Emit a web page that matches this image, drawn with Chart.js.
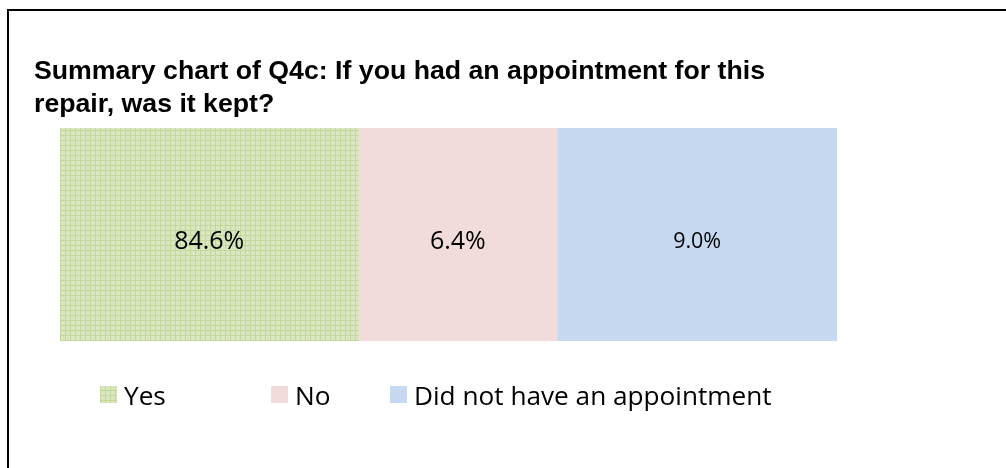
<!DOCTYPE html>
<html>
<head>
<meta charset="utf-8">
<script src="https://cdn.jsdelivr.net/npm/chart.js@4"></script>
<style>
  html, body { margin: 0; padding: 0; background: #fff; overflow: hidden; }
  #wrap { position: relative; width: 1006px; height: 468px; }
  #frame { position: absolute; left: 7px; top: 9px; width: 1100px; height: 600px; border-left: 2px solid #000; border-top: 2px solid #000; }
  #title { position: absolute; left: 34px; top: 54px; font: bold 26.7px "Liberation Sans", Arial, sans-serif; line-height: 33px; color: #000; }
  #myChart { position: absolute; left: 0; top: 0; }
</style>
</head>
<body>
<div id="wrap">
  <div id="frame"></div>
  <canvas id="myChart" width="1006" height="468"></canvas>
  <div id="title">Summary chart of Q4c: If you had an appointment for this<br>repair, was it kept?</div>
</div>
<script>
// answers, the segment lengths as drawn, and the labels printed on them
const answers = ['Yes', 'No', 'Did not have an appointment'];
const segmentLengths = [38.4, 25.6, 36.0];
const shownValues = ['84.6%', '6.4%', '9.0%'];

const labelFont = '"Open Sans", Lato, sans-serif';

function gridPattern() {
    const c = document.createElement('canvas');
    c.width = 5; c.height = 5;
    const g = c.getContext('2d');
    g.fillStyle = '#d9e6c0';
    g.fillRect(0, 0, 5, 5);
    g.fillStyle = '#c4d89e';
    g.fillRect(0, 0, 5, 1);
    g.fillRect(0, 0, 1, 5);
    return document.getElementById('myChart').getContext('2d').createPattern(c, 'repeat');
}

const fills = [gridPattern(), '#f2dcdb', '#c6d9f1'];
const labelSizes = [25, 25, 21.5];

const segmentLabels = {
    id: 'segmentLabels',
    afterDatasetsDraw(chart) {
        const ctx = chart.ctx;
        ctx.save();
        ctx.fillStyle = '#000';
        ctx.textAlign = 'center';
        ctx.textBaseline = 'middle';
        chart.data.datasets.forEach((ds, i) => {
            const bar = chart.getDatasetMeta(i).data[0];
            ctx.font = labelSizes[i] + 'px ' + labelFont;
            const cx = (bar.x + bar.base) / 2;
            ctx.fillText(shownValues[i], cx, bar.y + 7);
        });
        ctx.restore();
    }
};

const legendRow = {
    id: 'legendRow',
    afterDraw(chart) {
        const ctx = chart.ctx;
        const boxX = [100, 271, 390];
        ctx.save();
        ctx.font = '26.2px ' + labelFont;
        ctx.textBaseline = 'middle';
        ctx.textAlign = 'left';
        answers.forEach((name, i) => {
            ctx.fillStyle = fills[i];
            ctx.fillRect(boxX[i], 386, 17, 17);
            ctx.fillStyle = '#000';
            ctx.fillText(name, boxX[i] + 24, 398);
        });
        ctx.restore();
    }
};

new Chart(document.getElementById('myChart'), {
    type: 'bar',
    data: {
        labels: [''],
        datasets: answers.map((name, i) => ({
            label: name,
            data: [segmentLengths[i]],
            backgroundColor: fills[i],
            borderWidth: 0,
            barPercentage: 1,
            categoryPercentage: 1
        }))
    },
    options: {
        indexAxis: 'y',
        responsive: false,
        animation: false,
        layout: { padding: { left: 60, right: 169, top: 128, bottom: 127 } },
        plugins: { legend: { display: false }, tooltip: { enabled: false } },
        scales: {
            x: { stacked: true, min: 0, max: 100, display: false },
            y: { stacked: true, display: false }
        }
    },
    plugins: [segmentLabels, legendRow]
});
</script>
</body>
</html>
